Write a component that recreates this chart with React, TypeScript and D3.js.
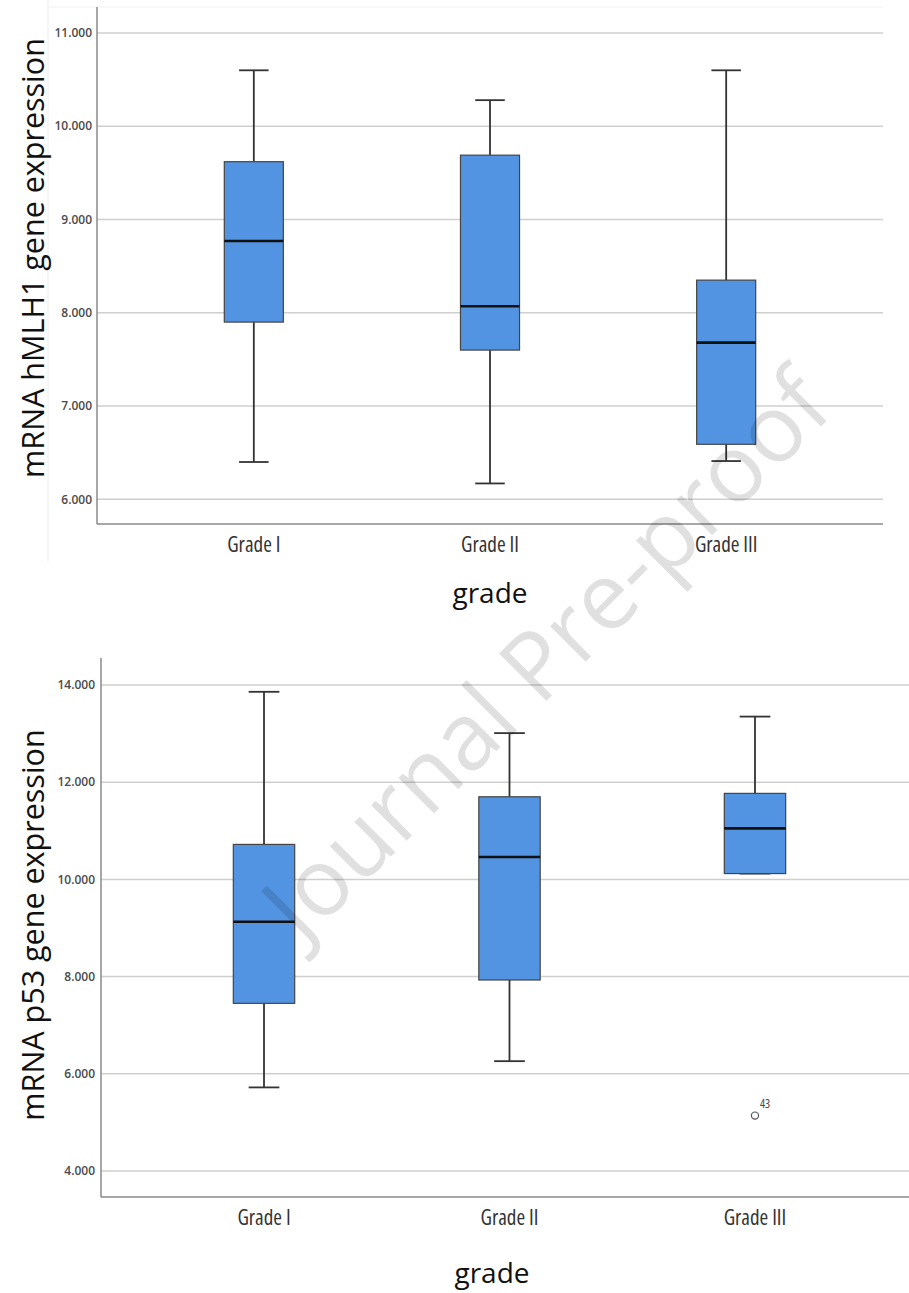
import * as d3 from 'd3';

// категории и значения
const grades = ['Grade I', 'Grade II', 'Grade III'];

const hmlh1Min = [6.40, 6.17, 6.41];
const hmlh1Q1 = [7.90, 7.60, 6.59];
const hmlh1Median = [8.77, 8.07, 7.68];
const hmlh1Q3 = [9.62, 9.69, 8.35];
const hmlh1Max = [10.60, 10.28, 10.60];
const hmlh1Ticks = [6, 7, 8, 9, 10, 11];

const p53Min = [5.72, 6.26, 10.12];
const p53Q1 = [7.45, 7.93, 10.12];
const p53Median = [9.13, 10.46, 11.05];
const p53Q3 = [10.72, 11.70, 11.77];
const p53Max = [13.86, 13.01, 13.35];
const p53Ticks = [4, 6, 8, 10, 12, 14];
const p53Outliers = [{ grade: 'Grade III', value: 5.14, label: '43' }];

const BOX_FILL = '#5294e2';
const FONT = '"Open Sans", "Noto Sans", sans-serif';

type PanelProps = {
  mins: number[];
  q1: number[];
  medians: number[];
  q3: number[];
  maxs: number[];
  ticks: number[];
  outliers?: { grade: string; value: number; label: string }[];
  yTickRange: [number, number]; // пиксели для первого и последнего тика
  frameTop: number;
  frameBottom: number;
  left: number;
  right: number;
  title: string;
  titleY: number;
  catLabelY: number;
  gradeY: number;
  gradeX: number;
  tickLabelX: number;
  topFrame?: boolean;
};

const BoxPanel = (p: PanelProps) => {
  const y = d3.scaleLinear()
    .domain([p.ticks[0], p.ticks[p.ticks.length - 1]])
    .range(p.yTickRange);
  const x = d3.scalePoint<string>()
    .domain(grades)
    .range([p.left, p.right])
    .padding(0.664);
  const boxW = x.step() * 0.25;
  const capW = boxW / 2;

  return (
    <g>
      {p.topFrame && (
        <g>
          <line x1={48} x2={48} y1={0} y2={562} stroke="#eee" strokeWidth={1} />
          <line x1={48} x2={883} y1={p.frameTop} y2={p.frameTop} stroke="#f2f2f2" strokeWidth={1} />
        </g>
      )}
      {/* сетка */}
      {p.ticks.map(t => (
        <line key={'g' + t} x1={p.left} x2={p.right} y1={y(t)} y2={y(t)} stroke="#cfcfcf" strokeWidth={1.5} />
      ))}
      {p.ticks.map(t => (
        <text key={'t' + t} x={p.tickLabelX} y={y(t)} dy="0.35em" textAnchor="end"
          fontFamily={FONT} fontSize={12} fontWeight={600} fill="#4a4a4a">
          {d3.format('.3f')(t)}
        </text>
      ))}
      {/* оси */}
      <line x1={p.left} x2={p.left} y1={p.frameTop} y2={p.frameBottom} stroke="#8a8a8a" strokeWidth={1.5} />
      <line x1={p.left} x2={p.right} y1={p.frameBottom} y2={p.frameBottom} stroke="#8a8a8a" strokeWidth={1.5} />

      {/* ящики */}
      {grades.map((g, i) => {
        const cx = x(g) as number;
        return (
          <g key={g}>
            <line x1={cx} x2={cx} y1={y(p.maxs[i])} y2={y(p.q3[i])} stroke="#333" strokeWidth={1.8} />
            <line x1={cx} x2={cx} y1={y(p.q1[i])} y2={y(p.mins[i])} stroke="#333" strokeWidth={1.8} />
            <line x1={cx - capW / 2} x2={cx + capW / 2} y1={y(p.maxs[i])} y2={y(p.maxs[i])} stroke="#333" strokeWidth={1.8} />
            <line x1={cx - capW / 2} x2={cx + capW / 2} y1={y(p.mins[i])} y2={y(p.mins[i])} stroke="#333" strokeWidth={1.8} />
            <rect x={cx - boxW / 2} y={y(p.q3[i])} width={boxW} height={y(p.q1[i]) - y(p.q3[i])}
              fill={BOX_FILL} stroke="#444" strokeWidth={1.2} />
            <line x1={cx - boxW / 2} x2={cx + boxW / 2} y1={y(p.medians[i])} y2={y(p.medians[i])} stroke="#111" strokeWidth={2.6} />
            <text x={cx} y={p.catLabelY} textAnchor="middle" fontFamily={FONT} fontSize={21} fontWeight={500}
              fill="#333" style={{ fontStretch: 'condensed' }}>{g}</text>
          </g>
        );
      })}
      {(p.outliers || []).map(o => (
        <g key={o.label}>
          <circle cx={x(o.grade) as number} cy={y(o.value)} r={3.6} fill="none" stroke="#555" strokeWidth={1.2} />
          <text x={(x(o.grade) as number) + 5} y={y(o.value) - 8} fontFamily={FONT} fontSize={12} fill="#444"
            style={{ fontStretch: 'condensed' }}>{o.label}</text>
        </g>
      ))}
      <text transform={`translate(44, ${p.titleY}) rotate(-90)`} textAnchor="middle"
        fontFamily={FONT} fontSize={30.5} fill="#111">{p.title}</text>
      <text x={p.gradeX} y={p.gradeY} textAnchor="middle" fontFamily={FONT} fontSize={28} fill="#111">grade</text>
    </g>
  );
};

const App = () => {
  return (
    <svg width={909} height={1293} style={{ position: 'absolute', left: 0, top: 0, background: '#fff' }}>
      <BoxPanel
        mins={hmlh1Min} q1={hmlh1Q1} medians={hmlh1Median} q3={hmlh1Q3} maxs={hmlh1Max}
        ticks={hmlh1Ticks} yTickRange={[499.3, 33]} frameTop={7} frameBottom={524}
        left={97} right={883} title="mRNA hMLH1 gene expression" titleY={258}
        catLabelY={552} gradeY={603} gradeX={490} tickLabelX={92} topFrame
      />
      <BoxPanel
        mins={p53Min} q1={p53Q1} medians={p53Median} q3={p53Q3} maxs={p53Max}
        ticks={p53Ticks} outliers={p53Outliers} yTickRange={[1171, 685]} frameTop={658} frameBottom={1197}
        left={101} right={918} title="mRNA p53 gene expression" titleY={925}
        catLabelY={1225} gradeY={1283} gradeX={492} tickLabelX={95}
      />
      {/* водяной знак */}
      <text transform="translate(546, 655) rotate(-45)" textAnchor="middle" dy="0.35em"
        fontFamily={FONT} fontSize={94} fill="#000" fillOpacity={0.12}>Journal Pre-proof</text>
    </svg>
  );
};

export default App;
